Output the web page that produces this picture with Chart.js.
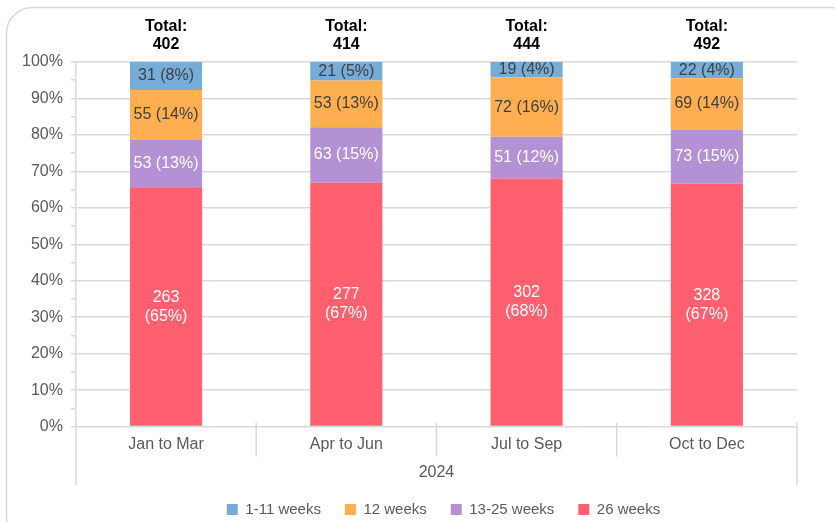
<!DOCTYPE html>
<html lang="en">
  <head>
    <meta charset="UTF-8" />
    <script src="https://cdn.jsdelivr.net/npm/chart.js"></script>
    <title>Waiting times 2024</title>
  </head>
  <body style="margin: 0; background: #fff">
    <div style="width: 835px; height: 522px; position: relative">
      <canvas id="chart"></canvas>
    </div>
    <script>
      const quarters = ['Jan to Mar', 'Apr to Jun', 'Jul to Sep', 'Oct to Dec'];
      const year = '2024';
      const seriesNames = ['1-11 weeks', '12 weeks', '13-25 weeks', '26 weeks'];
      const seriesColors = ['#76acd8', '#ffae52', '#b490d5', '#ff606f'];
      const labelColors = ['#404040', '#404040', '#ffffff', '#ffffff'];

      const weeks1to11 = [31, 21, 19, 22];
      const weeks12 = [55, 53, 72, 69];
      const weeks13to25 = [53, 63, 51, 73];
      const weeks26 = [263, 277, 302, 328];

      const pct1to11 = [8, 5, 4, 4];
      const pct12 = [14, 13, 16, 14];
      const pct13to25 = [13, 15, 12, 15];
      const pct26 = [65, 67, 68, 67];

      const counts = [weeks1to11, weeks12, weeks13to25, weeks26];
      const pcts = [pct1to11, pct12, pct13to25, pct26];
      const totals = quarters.map((q, i) => counts.reduce((s, c) => s + c[i], 0));

      const font = 'Arial, "Liberation Sans", sans-serif';
      const grey = '#d9d9d9';

      // stacked bottom to top: 26 weeks first
      const datasets = [3, 2, 1, 0].map(k => ({
        label: seriesNames[k],
        data: counts[k].map((v, i) => v / totals[i] * 100),
        backgroundColor: seriesColors[k],
        idx: k
      }));

      const extras = {
        id: 'extras',
        afterLayout(chart) {
          // legend sits a little right of centre and slightly higher
          const lg = chart.legend;
          lg.left += 38; lg.right += 38;
          lg.top -= 4; lg.bottom -= 4;
        },
        beforeDraw(chart) {
          const ctx = chart.ctx;
          ctx.save();
          ctx.strokeStyle = grey;
          ctx.lineWidth = 1.5;
          ctx.beginPath();
          ctx.roundRect(6.5, 7.5, 850, 535, 26);
          ctx.stroke();
          ctx.restore();
        },
        afterDatasetsDraw(chart) {
          const ctx = chart.ctx;
          const area = chart.chartArea;
          const xs = chart.scales.x;
          ctx.save();
          // category separators of the two-level axis
          ctx.strokeStyle = grey;
          ctx.lineWidth = 1.5;
          const step = (area.right - area.left) / quarters.length;
          for (let i = 0; i <= quarters.length; i++) {
            const x = area.left + step * i;
            const outer = i === 0 || i === quarters.length;
            ctx.beginPath();
            ctx.moveTo(x, area.bottom - 4);
            ctx.lineTo(x, area.bottom + (outer ? 59 : 30));
            ctx.stroke();
          }
          // segment labels
          ctx.textAlign = 'center';
          ctx.textBaseline = 'middle';
          ctx.font = '16px ' + font;
          chart.data.datasets.forEach((ds, di) => {
            const meta = chart.getDatasetMeta(di);
            meta.data.forEach((bar, i) => {
              const k = ds.idx;
              const mid = (bar.y + bar.base) / 2;
              ctx.fillStyle = labelColors[k];
              if (k === 3) {
                ctx.fillText(String(counts[k][i]), bar.x, mid - 9.5);
                ctx.fillText('(' + pcts[k][i] + '%)', bar.x, mid + 9.5);
              } else {
                ctx.fillText(counts[k][i] + ' (' + pcts[k][i] + '%)', bar.x, mid);
              }
            });
          });
          // totals
          ctx.fillStyle = '#000';
          ctx.font = 'bold 16px ' + font;
          quarters.forEach((q, i) => {
            const x = xs.getPixelForValue(i);
            ctx.fillText('Total:', x, area.top - 35);
            ctx.fillText(String(totals[i]), x, area.top - 17);
          });
          ctx.restore();
        }
      };

      new Chart(document.getElementById('chart'), {
        type: 'bar',
        data: { labels: quarters, datasets: datasets },
        plugins: [extras],
        options: {
          responsive: true,
          maintainAspectRatio: false,
          animation: false,
          layout: { padding: { top: 62, left: 14, right: 38, bottom: -9 } },
          datasets: { bar: { categoryPercentage: 1, barPercentage: 0.4 } },
          scales: {
            x: {
              stacked: true,
              grid: { display: false, drawTicks: false },
              border: { display: false },
              ticks: { color: '#595959', font: { size: 16, family: font }, padding: 8 },
              title: { display: true, text: year, color: '#595959', font: { size: 16, family: font }, padding: { top: 1, bottom: 0 } }
            },
            y: {
              stacked: true,
              min: 0,
              max: 100,
              grid: {
                color: c => (c.tick && c.tick.value % 10 === 0) ? grey : 'transparent',
                tickColor: grey,
                tickLength: 5,
                lineWidth: 1.5
              },
              border: { color: grey, width: 1.5 },
              ticks: {
                stepSize: 5,
                autoSkip: false,
                padding: 8,
                color: '#595959',
                font: { size: 16, family: font },
                callback: v => v % 10 === 0 ? v + '%' : ''
              }
            }
          },
          plugins: {
            tooltip: { enabled: false },
            legend: {
              position: 'bottom',
              reverse: true,
              labels: {
                boxWidth: 11,
                boxHeight: 11,
                padding: 24,
                color: '#595959',
                font: { size: 15, family: font }
              }
            }
          }
        }
      });
    </script>
  </body>
</html>
